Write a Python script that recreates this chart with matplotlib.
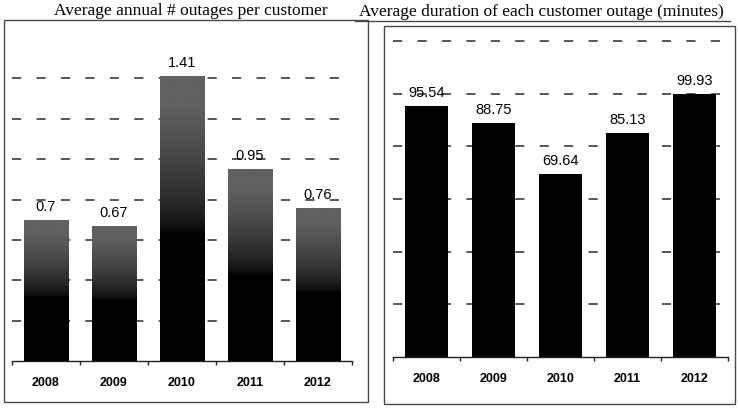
import numpy as np
import matplotlib.pyplot as plt
from matplotlib.patches import Rectangle
from matplotlib.lines import Line2D

years = ["2008", "2009", "2010", "2011", "2012"]
outages = [0.70, 0.67, 1.41, 0.95, 0.76]
outage_labels = ["0.7", "0.67", "1.41", "0.95", "0.76"]
duration = [95.54, 88.75, 69.64, 85.13, 99.93]
duration_labels = ["95.54", "88.75", "69.64", "85.13", "99.93"]
outage_grid = [0.2, 0.4, 0.6, 0.8, 1.0, 1.2, 1.4]
duration_grid = [20, 40, 60, 80, 100, 120]

W, H = 738, 410
fig = plt.figure(figsize=(W / 100, H / 100), dpi=100)
fig.patch.set_facecolor("white")

def px_axes(x0, y0, x1, y1):
    # axes placed by pixel box (top-left origin)
    return fig.add_axes([x0 / W, 1 - y1 / H, (x1 - x0) / W, (y1 - y0) / H])

def px_box(x0, y0, x1, y1):
    fig.patches.append(Rectangle((x0 / W, 1 - y1 / H), (x1 - x0) / W, (y1 - y0) / H,
                                 transform=fig.transFigure, fill=False,
                                 ec="#4a4a4a", lw=1.0))

def shade(ax, bars):
    # grey top fading to black towards the bottom of each bar
    t = np.linspace(0, 1, 200)[:, None]
    vals = np.clip((t - 0.45) / 0.45, 0, 1) ** 0.6 * 0.38
    for b in bars:
        x, w, h = b.get_x(), b.get_width(), b.get_height()
        im = ax.imshow(vals, extent=(x, x + w, 0, h), origin="lower", cmap="gray",
                       vmin=0, vmax=1, aspect="auto", zorder=3, interpolation="bilinear")
        im.set_clip_path(b)

def panel(ax, values, labels, grid, ymax, gradient):
    x = np.arange(len(years))
    for g in grid:
        ax.axhline(g, color="#2a2a2a", lw=1.1, ls=(0, (6, 10)), zorder=1)
    bars = ax.bar(x, values, width=0.65, color="black", edgecolor="none", zorder=2)
    if gradient:
        shade(ax, bars)
    ax.bar_label(bars, labels=labels, padding=5, fontsize=10.5, color="black",
                 family="Liberation Sans")
    ax.set_xlim(-0.5, len(years) - 0.5)
    ax.set_ylim(0, ymax)
    for s in ["left", "right", "top"]:
        ax.spines[s].set_visible(False)
    ax.spines["bottom"].set_color("#222222")
    ax.spines["bottom"].set_linewidth(1.0)
    ax.set_yticks([])
    ax.set_xticks(x)
    ax.set_xticklabels(years, fontsize=9, fontweight="bold", family="Liberation Sans")
    ax.tick_params(axis="x", which="major", length=0, pad=11)
    ax.set_xticks(np.arange(-0.5, len(years)), minor=True)
    ax.tick_params(axis="x", which="minor", length=3, width=1, color="#222222")
    ax.set_facecolor("none")

ax1 = px_axes(12, 39, 352, 362)
panel(ax1, outages, outage_labels, outage_grid, 1.6, True)

ax2 = px_axes(393, 29, 728, 358)
panel(ax2, duration, duration_labels, duration_grid, 125, False)

px_box(4, 21, 368, 403)
px_box(384, 27, 735, 405)

fig.text(191 / W, 1 - 11 / H, "Average annual # outages per customer",
         family="Liberation Serif", fontsize=12.5, ha="center", va="center")
fig.text(541 / W, 1 - 12 / H, "Average duration of each customer outage (minutes)",
         family="Liberation Serif", fontsize=12.5, ha="center", va="center")
fig.lines.append(Line2D([355 / W, 730 / W], [1 - 22 / H, 1 - 22 / H],
                        transform=fig.transFigure, color="#4a4a4a", lw=1.0))

fig.savefig("out.png", dpi=100)
